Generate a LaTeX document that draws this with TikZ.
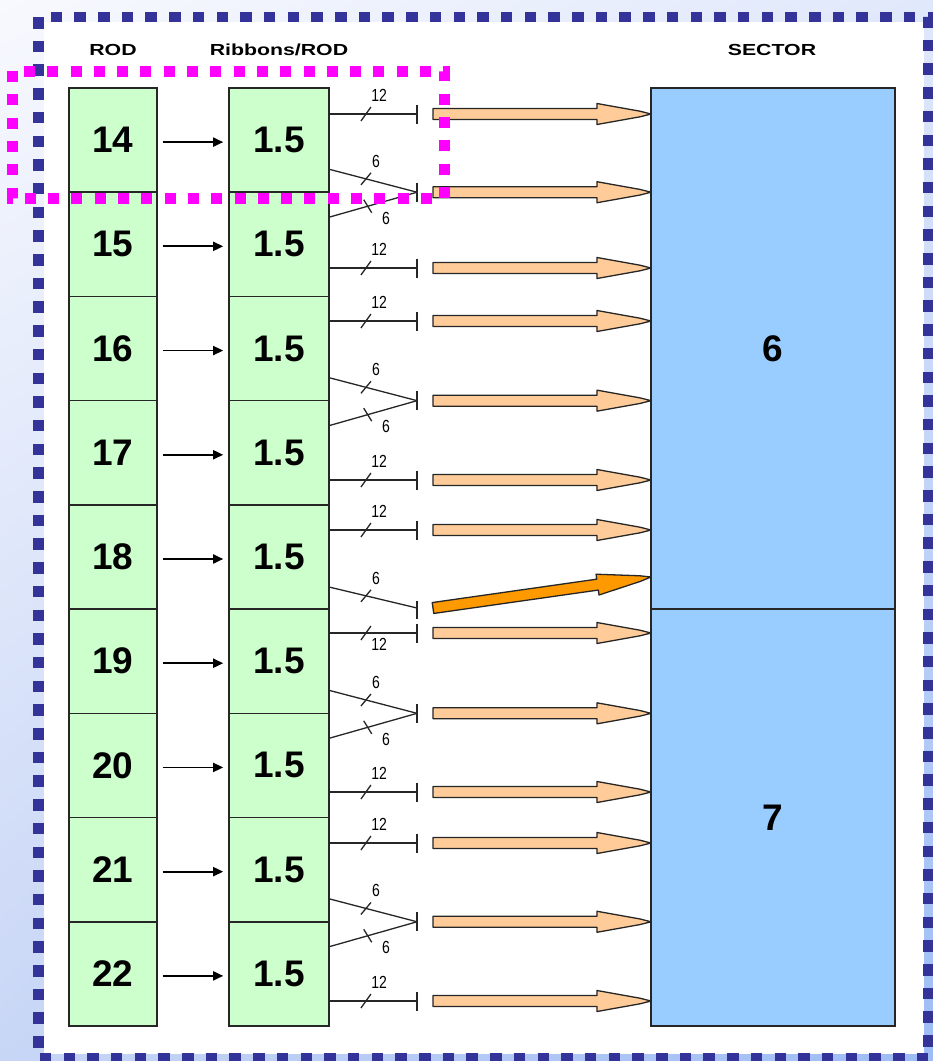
\documentclass[tikz,border=0pt]{standalone}
\usepackage{fontspec}
\usepackage{graphicx}
\setmainfont{Liberation Sans}
\usetikzlibrary{arrows.meta,calc,shadings}
\definecolor{navy}{HTML}{333399}
\definecolor{rodgreen}{HTML}{CCFFCC}
\definecolor{secblue}{HTML}{99CCFF}
\definecolor{peach}{HTML}{FFCC99}
\definecolor{amber}{HTML}{FF9900}
\definecolor{edge}{HTML}{262626}
\definecolor{pink}{HTML}{FF00FF}
\definecolor{bgul}{RGB}{248,249,254}
\definecolor{bgur}{RGB}{224,232,251}
\definecolor{bgll}{RGB}{200,214,246}
\definecolor{bglr}{RGB}{158,188,245}

\tikzset{
  cell/.style={draw=edge, line width=1.6pt, minimum height=104.22pt, inner sep=0pt,
    font=\bfseries\fontsize{37}{37}\selectfont},
  rodcell/.style={cell, fill=rodgreen, minimum width=88pt},
  ribcell/.style={cell, fill=rodgreen, minimum width=100pt},
  seccell/.style={cell, fill=secblue, minimum width=244pt},
  colhead/.style={font=\bfseries\fontsize{16}{16}\selectfont, inner sep=0pt},
  feed/.style={line width=1.8pt, -{Triangle[length=10pt,width=9pt]}, shorten <=5pt, shorten >=5pt},
  wire/.style={line width=1.3pt, draw=edge},
  tag/.style={font=\fontsize{17.5}{17.5}\selectfont, inner sep=0pt},
  fat/.style={draw=edge, line width=1.3pt, line join=round, fill=#1,
    to path={
      ($(\tikztostart)!5.5pt!90:(\tikztotarget)$)
      -- ($(\tikztotarget)!54pt!(\tikztostart)!5.5pt!-90:(\tikztostart)$)
      -- ($(\tikztotarget)!54pt!(\tikztostart)!10.5pt!-90:(\tikztostart)$)
      -- ($(\tikztotarget)!11pt!(\tikztostart)!2.8pt!-90:(\tikztostart)$)
      -- (\tikztotarget)
      -- ($(\tikztotarget)!11pt!(\tikztostart)!2.8pt!90:(\tikztostart)$)
      -- ($(\tikztotarget)!54pt!(\tikztostart)!10.5pt!90:(\tikztostart)$)
      -- ($(\tikztotarget)!54pt!(\tikztostart)!5.5pt!90:(\tikztostart)$)
      -- ($(\tikztostart)!5.5pt!-90:(\tikztotarget)$)
      -- cycle}},
}

\begin{document}
\begin{tikzpicture}[x=1pt, y=-1pt]
\useasboundingbox (0,0) rectangle (933,1061);

% page background and sheet
\shade[upper left=bgul, upper right=bgur, lower left=bgll, lower right=bglr]
  (0,0) rectangle (933,1061);
\fill[white] (44,22) rectangle (924,1054);
\draw[navy, line width=10.5pt, dash pattern=on 11.5pt off 12.2pt]
  (38.5,17) rectangle (928.5,1058.5);

% column headings
\node[colhead] (hrod) at (113,50) {\scalebox{1.33}[1]{ROD}};
\node[colhead] (hrib) at (279,50) {\scalebox{1.33}[1]{Ribbons/ROD}};
\node[colhead] (hsec) at (772,50) {\scalebox{1.33}[1]{SECTOR}};

% ROD and ribbon cells
\foreach \r [count=\i from 0] in {14,...,22} {
  \node[rodcell] (rod\r) at (113,{140.11+104.22*\i}) {\r};
  \node[ribcell] (rib\r) at (279,{140.11+104.22*\i}) {1.5};
  \draw[feed] ([yshift=-2pt]rod\r.east) -- ([yshift=-2pt]rib\r.west);
}

% sectors
\node[seccell, minimum height=521.1pt] (sec6) at (773,348.55) {6};
\node[seccell, minimum height=416.9pt] (sec7) at (773,817.55) {7};

% 12-fibre links
\foreach \k/\y/\dy in {a/114/-19, c/268/-19, d/321/-19, f/480/-19, g/530/-19,
                       i/633/11, k/792/-19, l/843/-19, n/1001/-19} {
  \coordinate (src\k) at (329,\y);
  \coordinate (bar\k) at (417,\y);
  \draw[wire] (src\k) -- (bar\k);
  \draw[wire] ($(bar\k)+(0,-9.5)$) -- ++(0,19);
  \draw[wire] ($(src\k)!0.42!(bar\k)+(-5,7)$) -- ++(10,-14);
  \node[tag] (t12\k) at ($(src\k)!0.57!(bar\k)+(0,\dy)$) {\scalebox{0.8}[1]{12}};
  \coordinate (tail\k) at (433,\y);
  \coordinate (tip\k) at (651,\y);
  \draw[fat=peach] (tail\k) to (tip\k);
}

% paired 6-fibre links meeting at a cell boundary
\foreach \k/\y in {b/192.22, e/400.66, j/713.32, m/921.76} {
  \coordinate (up\k) at (329,{\y-23});
  \coordinate (lo\k) at (329,{\y+25});
  \coordinate (bar\k) at (417,\y);
  \draw[wire] (up\k) -- (bar\k);
  \draw[wire] (lo\k) -- (bar\k);
  \draw[wire] ($(bar\k)+(0,-9.5)$) -- ++(0,19);
  \draw[wire] ($(up\k)!0.42!(bar\k)+(-5,6)$) -- ++(10,-12);
  \draw[wire] ($(lo\k)!0.44!(bar\k)+(-4,-6.5)$) -- ++(8,13);
  \node[tag] (tu\k) at (376,{\y-31}) {\scalebox{0.8}[1]{6}};
  \node[tag] (tl\k) at (386,{\y+26}) {\scalebox{0.8}[1]{6}};
  \coordinate (tail\k) at (433,\y);
  \coordinate (tip\k) at (651,\y);
  \draw[fat=peach] (tail\k) to (tip\k);
}

% single 6-fibre link crossing into the lower sector
\coordinate (srch) at (329,587);
\coordinate (barh) at (417,608);
\draw[wire] (srch) -- (barh);
\draw[wire] ($(barh)+(0,-7)$) -- ++(0,18);
\draw[wire] ($(srch)!0.42!(barh)+(-5,6)$) -- ++(10,-12);
\node[tag] (tuh) at (376,578) {\scalebox{0.8}[1]{6}};
\coordinate (tailh) at (433,608);
\coordinate (tiph) at (651,577);
\draw[fat=amber] (tailh) to (tiph);

% highlighted group
\draw[pink, line width=11pt, dash pattern=on 11pt off 12.3pt]
  (12,71) rectangle (444,198);
\end{tikzpicture}
\end{document}
